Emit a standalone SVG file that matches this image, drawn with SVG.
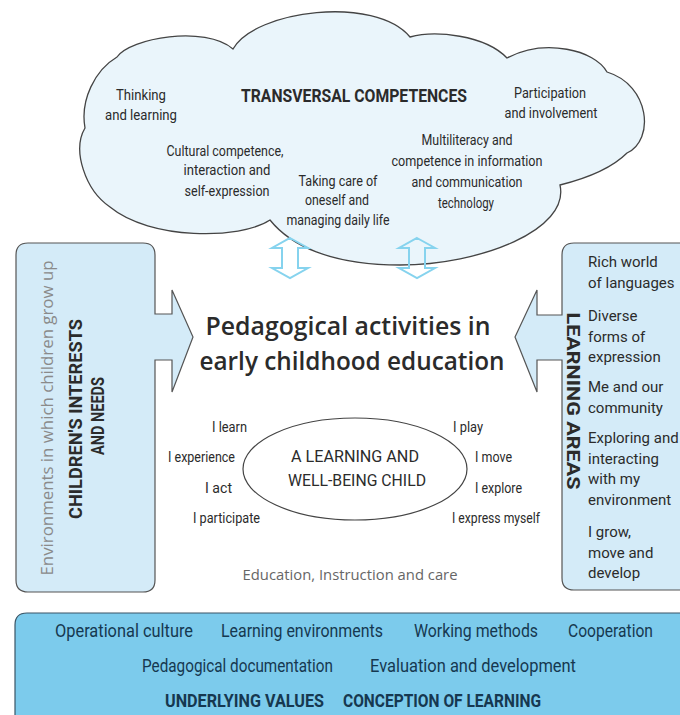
<svg xmlns="http://www.w3.org/2000/svg" width="680" height="715" viewBox="0 0 680 715">
<style>
.n{font-family:Roboto,"Liberation Sans",sans-serif;fill:#2b2b2b}
.c{text-anchor:middle}
.e{text-anchor:end}
.b{font-weight:bold}
.s14{font-size:14.5px}
.s15{font-size:15.5px}
.s17{font-size:17px}
.h{font-family:"Open Sans","Noto Sans",sans-serif}
.nav{fill:#163850;font-size:19px}
</style>
<rect width="680" height="715" fill="#ffffff"/>
<g id="cloud">
<path d="M117,57 C130,38 205,25 233,49 C255,10 375,-5 410,37 C435,30 485,35 507,58 C545,38 595,50 607,72 C650,85 655,140 627,153 C610,170 580,180 560,185 C570,230 480,265 400,265 C330,265 290,245 270,220 C240,240 150,240 110,207 C85,190 72,150 85,128 C80,100 95,70 117,57 Z" fill="#eaf5fb" stroke="#444" stroke-width="1.3"/>
<text class="n b c" font-size="18.5" x="354" y="102" textLength="226" lengthAdjust="spacingAndGlyphs">TRANSVERSAL COMPETENCES</text>
<text class="n c s15" x="141" y="100" textLength="50" lengthAdjust="spacingAndGlyphs">Thinking</text>
<text class="n c s15" x="141" y="120" textLength="72" lengthAdjust="spacingAndGlyphs">and learning</text>
<text class="n c s15" x="550" y="98" textLength="72" lengthAdjust="spacingAndGlyphs">Participation</text>
<text class="n c s15" x="551" y="118" textLength="93" lengthAdjust="spacingAndGlyphs">and involvement</text>
<text class="n c s15" x="225" y="156" textLength="117" lengthAdjust="spacingAndGlyphs">Cultural competence,</text>
<text class="n c s15" x="227" y="175" textLength="87" lengthAdjust="spacingAndGlyphs">interaction and</text>
<text class="n c s15" x="227" y="196" textLength="85" lengthAdjust="spacingAndGlyphs">self-expression</text>
<text class="n c s15" x="338" y="186" textLength="79" lengthAdjust="spacingAndGlyphs">Taking care of</text>
<text class="n c s15" x="337" y="205" textLength="64" lengthAdjust="spacingAndGlyphs">oneself and</text>
<text class="n c s15" x="338" y="225" textLength="103" lengthAdjust="spacingAndGlyphs">managing daily life</text>
<text class="n c s15" x="467" y="145" textLength="91" lengthAdjust="spacingAndGlyphs">Multiliteracy and</text>
<text class="n c s15" x="467" y="166" textLength="151" lengthAdjust="spacingAndGlyphs">competence in information</text>
<text class="n c s15" x="467" y="187" textLength="111" lengthAdjust="spacingAndGlyphs">and communication</text>
<text class="n c s15" x="466" y="208" textLength="56" lengthAdjust="spacingAndGlyphs">technology</text>
</g>
<g id="connectors" fill="none" stroke="#86d3ee" stroke-width="2" stroke-linejoin="miter">
<path d="M290,238 L308,248 L298,248 L298,268 L308,268 L290,278 L272,268 L282,268 L282,248 L272,248 Z"/>
<path d="M417,238 L435,248 L425,248 L425,268 L435,268 L417,278 L399,268 L409,268 L409,248 L399,248 Z"/>
</g>
<g id="children">
<path d="M28,243 H143 Q155,243 155,255 V314 H172 V290 L193,337 L172,392 V360 H155 V580 Q155,592 143,592 H28 Q16,592 16,580 V255 Q16,243 28,243 Z" fill="#d4ebf8" stroke="#555" stroke-width="1.2"/>
<text class="h c" font-size="16" fill="#8a8a8a" transform="translate(53,418) rotate(-90)" textLength="315" lengthAdjust="spacingAndGlyphs">Environments in which children grow up</text>
<text class="n b c" font-size="18" transform="translate(82,419) rotate(-90)" textLength="200" lengthAdjust="spacingAndGlyphs">CHILDREN'S INTERESTS</text>
<text class="n b c" font-size="18" transform="translate(104,416) rotate(-90)" textLength="78" lengthAdjust="spacingAndGlyphs">AND NEEDS</text>
</g>
<g id="learning-areas">
<path d="M690,243 H574 Q562,243 562,255 V315 H537 V290 L515,337 L537,392 V360 H562 V578 Q562,590 574,590 H690" fill="#d4ebf8" stroke="#555" stroke-width="1.2"/>
<text class="n b c" font-size="18" transform="translate(567,401) rotate(90)" textLength="177" lengthAdjust="spacingAndGlyphs">LEARNING AREAS</text>
<text class="n" font-size="15" x="588" y="267">Rich world</text>
<text class="n" font-size="15" x="588" y="288">of languages</text>
<text class="n" font-size="15" x="588" y="321">Diverse</text>
<text class="n" font-size="15" x="588" y="342">forms of</text>
<text class="n" font-size="15" x="588" y="362">expression</text>
<text class="n" font-size="15" x="588" y="392">Me and our</text>
<text class="n" font-size="15" x="588" y="413">community</text>
<text class="n" font-size="15" x="588" y="443">Exploring and</text>
<text class="n" font-size="15" x="588" y="464">interacting</text>
<text class="n" font-size="15" x="588" y="484">with my</text>
<text class="n" font-size="15" x="588" y="505">environment</text>
<text class="n" font-size="15" x="588" y="537">I grow,</text>
<text class="n" font-size="15" x="588" y="558">move and</text>
<text class="n" font-size="15" x="588" y="578">develop</text>
</g>
<g id="center">
<text class="h c" font-size="26" font-weight="600" fill="#2b2b2b" x="348" y="335" textLength="285" lengthAdjust="spacingAndGlyphs">Pedagogical activities in</text>
<text class="h c" font-size="26" font-weight="600" fill="#2b2b2b" x="352" y="370" textLength="305" lengthAdjust="spacingAndGlyphs">early childhood education</text>
</g>
<g id="child">
<ellipse cx="355" cy="469" rx="112" ry="51" fill="#ffffff" stroke="#444" stroke-width="1.2"/>
<text class="n c" font-size="17" x="355" y="462" textLength="128" lengthAdjust="spacingAndGlyphs">A LEARNING AND</text>
<text class="n c" font-size="17" x="357" y="486" textLength="138" lengthAdjust="spacingAndGlyphs">WELL-BEING CHILD</text>
<text class="n e s14" x="247" y="432" textLength="35" lengthAdjust="spacingAndGlyphs">I learn</text>
<text class="n e s14" x="235" y="462" textLength="67" lengthAdjust="spacingAndGlyphs">I experience</text>
<text class="n e s14" x="232" y="493" textLength="27" lengthAdjust="spacingAndGlyphs">I act</text>
<text class="n e s14" x="260" y="523" textLength="67" lengthAdjust="spacingAndGlyphs">I participate</text>
<text class="n s14" x="453" y="432" textLength="30" lengthAdjust="spacingAndGlyphs">I play</text>
<text class="n s14" x="475" y="462" textLength="37" lengthAdjust="spacingAndGlyphs">I move</text>
<text class="n s14" x="475" y="493" textLength="47" lengthAdjust="spacingAndGlyphs">I explore</text>
<text class="n s14" x="452" y="523" textLength="88" lengthAdjust="spacingAndGlyphs">I express myself</text>
<text class="h c" font-size="15" fill="#666" x="350" y="580" textLength="215" lengthAdjust="spacingAndGlyphs">Education, Instruction and care</text>
</g>
<g id="foundation">
<path d="M15,720 V625 Q15,613 27,613 H690 V720 Z" fill="#7ccbec" stroke="#3a5566" stroke-width="1.2"/>
<text class="n nav" x="55" y="637" textLength="138" lengthAdjust="spacingAndGlyphs">Operational culture</text>
<text class="n nav" x="221" y="637" textLength="162" lengthAdjust="spacingAndGlyphs">Learning environments</text>
<text class="n nav" x="414" y="637" textLength="124" lengthAdjust="spacingAndGlyphs">Working methods</text>
<text class="n nav" x="568" y="637" textLength="85" lengthAdjust="spacingAndGlyphs">Cooperation</text>
<text class="n nav" x="142" y="672" textLength="191" lengthAdjust="spacingAndGlyphs">Pedagogical documentation</text>
<text class="n nav" x="370" y="672" textLength="206" lengthAdjust="spacingAndGlyphs">Evaluation and development</text>
<text class="n nav b" x="165" y="707" textLength="159" lengthAdjust="spacingAndGlyphs">UNDERLYING VALUES</text>
<text class="n nav b" x="343" y="707" textLength="198" lengthAdjust="spacingAndGlyphs">CONCEPTION OF LEARNING</text>
</g>
</svg>
